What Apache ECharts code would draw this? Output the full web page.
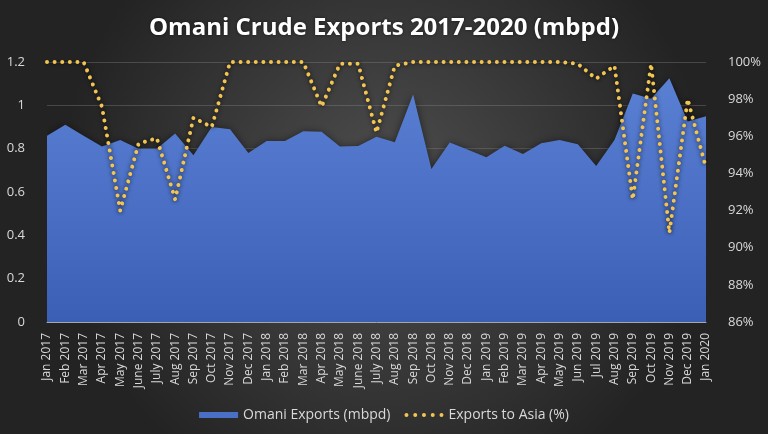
<!DOCTYPE html>
<html>
<head>
<meta charset="utf-8">
<title>Omani Crude Exports</title>
<script src="https://cdn.jsdelivr.net/npm/echarts@6/dist/echarts.min.js"></script>
<style>
  html, body { margin: 0; padding: 0; background: #2b2b2b; }
  #chart { width: 768px; height: 434px; }
</style>
</head>
<body>
<div id="chart"></div>
<script>
const months = [
    'Jan 2017', 'Feb 2017', 'Mar 2017', 'Apr 2017', 'May 2017', 'June 2017', 'July 2017', 'Aug 2017',
    'Sep 2017', 'Oct 2017', 'Nov 2017', 'Dec 2017', 'Jan 2018', 'Feb 2018', 'Mar 2018', 'Apr 2018',
    'May 2018', 'June 2018', 'July 2018', 'Aug 2018', 'Sep 2018', 'Oct 2018', 'Nov 2018', 'Dec 2018',
    'Jan 2019', 'Feb 2019', 'Mar 2019', 'Apr 2019', 'May 2019', 'Jun 2019', 'Jul 2019', 'Aug 2019',
    'Sep 2019', 'Oct 2019', 'Nov 2019', 'Dec 2019', 'Jan 2020'
];

// mbpd, left axis
const omaniExports = [
    0.86, 0.91, 0.86, 0.81, 0.84, 0.80, 0.80, 0.87,
    0.77, 0.90, 0.89, 0.78, 0.835, 0.835, 0.88, 0.878,
    0.81, 0.812, 0.855, 0.83, 1.05, 0.706, 0.828, 0.795,
    0.76, 0.814, 0.775, 0.825, 0.84, 0.82, 0.72, 0.84,
    1.055, 1.03, 1.125, 0.925, 0.95
];

// share going to Asia, right axis (%)
const asiaShare = [
    100, 100, 100, 97.6, 92.0, 95.6, 95.9, 92.6,
    97.0, 96.5, 100, 100, 100, 100, 100, 97.6,
    99.9, 99.9, 96.2, 99.8, 100, 100, 100, 100,
    100, 100, 100, 100, 100, 99.9, 99.1, 99.8,
    92.6, 99.9, 90.8, 98.0, 94.3
];

const leftTicks = { min: 0, max: 1.2, interval: 0.2 };
const rightTicks = { min: 86, max: 100, interval: 2 };

const font = 'Open Sans';
const labelColor = '#d9d9d9';

const dotsIcon = 'path://M0,2a2,2 0 1,0 4,0a2,2 0 1,0 -4,0z' +
    'M8.75,2a2,2 0 1,0 4,0a2,2 0 1,0 -4,0z' +
    'M17.5,2a2,2 0 1,0 4,0a2,2 0 1,0 -4,0z' +
    'M26.25,2a2,2 0 1,0 4,0a2,2 0 1,0 -4,0z' +
    'M35,2a2,2 0 1,0 4,0a2,2 0 1,0 -4,0z';

const myChart = echarts.init(document.getElementById('chart'));
const option = {
    backgroundColor: {
        type: 'radial', x: 0.5, y: 0.45, r: 0.75,
        colorStops: [
            { offset: 0, color: '#4f4f4f' },
            { offset: 1, color: '#232323' }
        ]
    },
    animation: false,
    title: {
        text: 'Omani Crude Exports 2017-2020 (mbpd)',
        left: 'center',
        top: 11,
        textStyle: {
            color: '#ffffff',
            fontFamily: font,
            fontSize: 24,
            fontWeight: 'bold',
            textShadowColor: 'rgba(0,0,0,0.6)',
            textShadowBlur: 3
        }
    },
    legend: {
        bottom: 7,
        left: 'center',
        itemWidth: 39,
        itemHeight: 6,
        itemGap: 14,
        textStyle: { color: labelColor, fontFamily: font, fontSize: 14 },
        data: [
            { name: 'Omani Exports (mbpd)', icon: 'rect' },
            { name: 'Exports to Asia (%)', icon: dotsIcon }
        ]
    },
    grid: { left: 47, right: 62, top: 62, bottom: 112 },
    xAxis: {
        type: 'category',
        data: months,
        boundaryGap: false,
        axisLine: { lineStyle: { color: '#a6a6a6' } },
        axisTick: { show: false },
        axisLabel: {
            interval: 0,
            rotate: 90,
            color: labelColor,
            fontFamily: font,
            fontSize: 12,
            margin: 11
        }
    },
    yAxis: [
        {
            type: 'value',
            min: leftTicks.min,
            max: leftTicks.max,
            interval: leftTicks.interval,
            axisLine: { show: false },
            axisTick: { show: false },
            axisLabel: { color: labelColor, fontFamily: font, fontSize: 13, margin: 22 },
            splitLine: { lineStyle: { color: 'rgba(140,140,140,0.35)' } }
        },
        {
            type: 'value',
            min: rightTicks.min,
            max: rightTicks.max,
            interval: rightTicks.interval,
            axisLine: { show: false },
            axisTick: { show: false },
            axisLabel: { color: labelColor, fontFamily: font, fontSize: 13, margin: 22, formatter: '{value}%' },
            splitLine: { show: false }
        }
    ],
    series: [
        {
            name: 'Omani Exports (mbpd)',
            type: 'line',
            data: omaniExports,
            symbol: 'none',
            color: '#4a6fc7',
            lineStyle: { width: 0 },
            areaStyle: {
                opacity: 1,
                color: {
                    type: 'linear', x: 0, y: 0, x2: 0, y2: 1,
                    colorStops: [
                        { offset: 0, color: '#5a80d4' },
                        { offset: 1, color: '#3b5fb5' }
                    ]
                },
                shadowColor: 'rgba(0,0,0,0.55)',
                shadowBlur: 8,
                shadowOffsetY: 1
            },
            z: 1
        },
        {
            name: 'Exports to Asia (%)',
            type: 'line',
            yAxisIndex: 1,
            data: asiaShare,
            symbol: 'none',
            color: '#f2c552',
            lineStyle: {
                width: 4,
                color: '#f2c552',
                type: [0.01, 7.6],
                cap: 'round',
                shadowColor: 'rgba(0,0,0,0.9)',
                shadowBlur: 4
            },
            z: 3
        }
    ]
};

myChart.setOption(option);
</script>
</body>
</html>
